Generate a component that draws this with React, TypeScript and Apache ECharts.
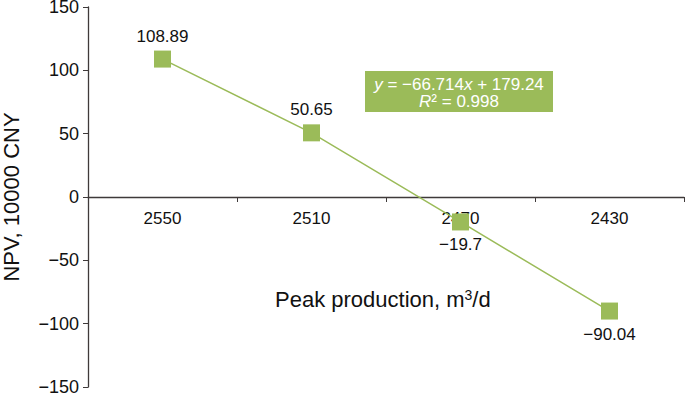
import React, { useEffect, useRef } from "react";
import * as echarts from "echarts";

const categories = ["2550", "2510", "2470", "2430"];
const npvValues = [108.89, 50.65, -19.7, -90.04];
const labelPositions = ["top", "top", "bottom", "bottom"];
const yTicks = { min: -150, max: 150, interval: 50 };

const GREEN = "#9BBB59";
const AXIS = "#3f3a3a";
const FONT = "'Liberation Sans', Arial, sans-serif";

export default function App() {
  const ref = useRef<HTMLDivElement>(null);
  useEffect(() => {
    if (!ref.current) return;
    const chart = echarts.init(ref.current, undefined, { renderer: "svg" });
    chart.setOption({
      animation: false,
      textStyle: { fontFamily: FONT },
      grid: { left: 88, right: 1, top: 7, bottom: 13, containLabel: false, outerBoundsMode: "none" },
      xAxis: {
        type: "category",
        data: categories,
        position: "bottom",
        offset: -190,
        axisLine: { onZero: false, lineStyle: { color: AXIS, width: 1.3 } },
        axisTick: { show: true, length: 5, lineStyle: { color: AXIS } },
        axisLabel: { color: "#111", fontSize: 17, margin: 13, fontFamily: FONT },
        splitLine: { show: false },
      },
      yAxis: {
        type: "value",
        min: yTicks.min,
        max: yTicks.max,
        interval: yTicks.interval,
        axisLine: { show: true, lineStyle: { color: AXIS, width: 1.3 } },
        axisTick: { show: true, length: 5, lineStyle: { color: AXIS } },
        axisLabel: {
          color: "#111",
          fontSize: 18,
          margin: 9,
          fontFamily: FONT,
          formatter: (v: number) => String(v).replace("-", "−"),
        },
        splitLine: { show: false },
        name: "NPV, 10000 CNY",
        nameLocation: "middle",
        nameGap: 66,
        nameTextStyle: { color: "#111", fontSize: 22, fontFamily: FONT },
      },
      series: [
        {
          type: "line",
          data: npvValues.map((v, i) => ({
            value: v,
            label: { position: labelPositions[i] },
          })),
          symbol: "rect",
          symbolSize: 17,
          itemStyle: { color: GREEN },
          lineStyle: { color: GREEN, width: 1.5 },
          label: {
            show: true,
            distance: 6,
            color: "#111",
            fontSize: 17,
            fontFamily: FONT,
            formatter: (p: any) => String(p.value).replace("-", "−"),
          },
        },
      ],
      graphic: [
        {
          type: "text",
          left: 275,
          top: 288,
          style: {
            text: "Peak production, m{sup|3}/d",
            fill: "#111",
            font: `22px ${FONT}`,
            rich: {
              sup: { fontSize: 14, verticalAlign: "top", padding: [0, 0, 9, 0], fill: "#111", fontFamily: FONT },
            },
          } as any,
        },
        {
          type: "rect",
          shape: { x: 365, y: 71, width: 188, height: 41 },
          style: { fill: GREEN },
        },
        {
          type: "text",
          x: 459,
          y: 84,
          style: {
            text: "{i|y} = −66.714{i|x} + 179.24",
            fill: "#fff",
            font: `17px ${FONT}`,
            align: "center",
            verticalAlign: "middle",
            rich: { i: { fontStyle: "italic", fill: "#fff", fontSize: 17, fontFamily: FONT } },
          } as any,
        },
        {
          type: "text",
          x: 459,
          y: 101,
          style: {
            text: "{i|R}² = 0.998",
            fill: "#fff",
            font: `17px ${FONT}`,
            align: "center",
            verticalAlign: "middle",
            rich: { i: { fontStyle: "italic", fill: "#fff", fontSize: 17, fontFamily: FONT } },
          } as any,
        },
      ],
    });
    return () => chart.dispose();
  }, []);
  return <div ref={ref} style={{ position: "absolute", left: 0, top: 0, width: 685, height: 400 }} />;
}
